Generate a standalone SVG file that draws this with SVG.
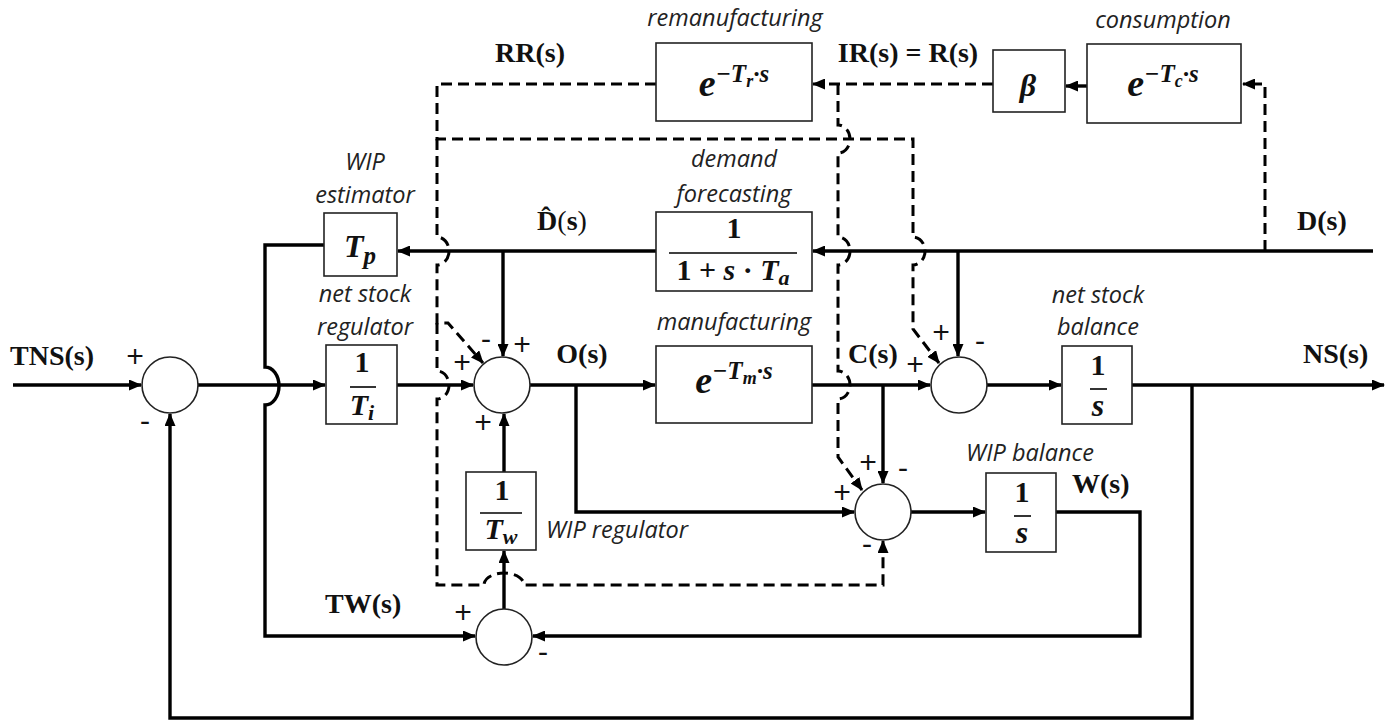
<svg xmlns="http://www.w3.org/2000/svg" width="1391" height="721" viewBox="0 0 1391 721">
<style>
.box{fill:#fff;stroke:#222;stroke-width:1.6}
.sum{fill:#fff;stroke:#222;stroke-width:1.6}
.ln{fill:none;stroke:#000;stroke-width:3.4}
.dl{fill:none;stroke:#000;stroke-width:3;stroke-dasharray:11 6}
.bar{stroke:#000;stroke-width:1.6}
.lab{font-family:"Open Sans","Liberation Sans",sans-serif;font-style:italic;font-size:23.5px;fill:#222;text-anchor:middle}
.sig{font-family:"Liberation Serif",serif;font-weight:bold;font-size:28px;fill:#111}
.m{font-family:"Liberation Serif",serif;font-weight:bold;font-style:italic;fill:#111;text-anchor:middle}
.n{font-family:"Liberation Serif",serif;font-weight:bold;fill:#111;text-anchor:middle}
.pm{font-family:"Open Sans","Liberation Sans",sans-serif;font-size:31px;fill:#111;text-anchor:middle}
</style>
<defs>
<marker id="ar" markerUnits="userSpaceOnUse" markerWidth="13" markerHeight="11" refX="12" refY="5.5" orient="auto">
<path d="M0,0 L13,5.5 L0,11 z" fill="#000"/>
</marker>
</defs>

<g id="connectors">
<!-- solid -->
<path class="ln" d="M13,385 H141" marker-end="url(#ar)"/>
<path class="ln" d="M198,385 H325" marker-end="url(#ar)"/>
<path class="ln" d="M324,245 H265 V367 A14 19 0 0 1 265,405 V636 H475" marker-end="url(#ar)"/>
<path class="ln" d="M397,385 H473" marker-end="url(#ar)"/>
<path class="ln" d="M1373,251 H813" marker-end="url(#ar)"/>
<path class="ln" d="M656,251 H398" marker-end="url(#ar)"/>
<path class="ln" d="M503,251 V356" marker-end="url(#ar)"/>
<path class="ln" d="M958,251 V356" marker-end="url(#ar)"/>
<path class="ln" d="M530,385 H655" marker-end="url(#ar)"/>
<path class="ln" d="M576,385 V512 H854" marker-end="url(#ar)"/>
<path class="ln" d="M812,385 H930" marker-end="url(#ar)"/>
<path class="ln" d="M883,385 V483" marker-end="url(#ar)"/>
<path class="ln" d="M987,385 H1061" marker-end="url(#ar)"/>
<path class="ln" d="M1132,385 H1384" marker-end="url(#ar)"/>
<path class="ln" d="M1192,385 V718 H170 V414" marker-end="url(#ar)"/>
<path class="ln" d="M911,512 H985" marker-end="url(#ar)"/>
<path class="ln" d="M1056,512 H1140 V636 H533" marker-end="url(#ar)"/>
<path class="ln" d="M504,609 V551" marker-end="url(#ar)"/>
<path class="ln" d="M504,472 V414" marker-end="url(#ar)"/>
<path class="ln" d="M1087,86 H1066" marker-end="url(#ar)"/>
<!-- dashed -->
<path class="dl" d="M1265,251 V84 H1243" marker-end="url(#ar)"/>
<path class="dl" d="M993,84 H813" marker-end="url(#ar)"/>
<path class="dl" d="M838,84 V125 A12 14 0 0 1 838,153 V237 A12 14 0 0 1 838,265 V371 A12 14 0 0 1 838,399 V457 L862,490" marker-end="url(#ar)"/>
<path class="dl" d="M656,84 H437 V139 H913 V237 A12 14 0 0 1 913,265 V329 L939,363" marker-end="url(#ar)"/>
<path class="dl" d="M437,139 V237 A12 14 0 0 1 437,265 V323 H448 L483,363" marker-end="url(#ar)"/>
<path class="dl" d="M437,323 V371 A12 14 0 0 1 437,399 V585 H484 A20 12 0 0 1 524,585 H883 V541" marker-end="url(#ar)"/>
</g>

<g id="remanufacturing">
<rect class="box" x="656" y="43" width="156" height="78"/>
<text class="m" x="734" y="96"><tspan font-size="38">e</tspan><tspan font-size="25" dy="-14">−T</tspan><tspan font-size="18" dy="5">r</tspan><tspan font-size="25" dy="-5">·s</tspan></text>
<text class="lab" x="735" y="26">remanufacturing</text>
</g>
<g id="beta">
<rect class="box" x="993" y="50" width="72" height="62"/>
<text class="m" x="1028" y="96" font-size="32">β</text>
</g>
<g id="consumption">
<rect class="box" x="1087" y="44" width="154" height="79"/>
<text class="m" x="1163" y="96"><tspan font-size="38">e</tspan><tspan font-size="25" dy="-14">−T</tspan><tspan font-size="18" dy="5">c</tspan><tspan font-size="25" dy="-5">·s</tspan></text>
<text class="lab" x="1163" y="28">consumption</text>
</g>
<g id="wip-estimator">
<rect class="box" x="324" y="213" width="73" height="63"/>
<text class="m" x="360" y="257"><tspan font-size="32">T</tspan><tspan font-size="25" dy="7">p</tspan></text>
<text class="lab" x="365" y="170">WIP</text>
<text class="lab" x="365" y="203">estimator</text>
</g>
<g id="net-stock-regulator">
<rect class="box" x="326" y="345" width="71" height="79"/>
<text class="n" x="362" y="372" font-size="30">1</text>
<line class="bar" x1="350" y1="387" x2="376" y2="387"/>
<text class="m" x="362" y="415"><tspan font-size="30">T</tspan><tspan font-size="22" dy="5">i</tspan></text>
<text class="lab" x="365" y="302">net stock</text>
<text class="lab" x="365" y="335">regulator</text>
</g>
<g id="demand-forecasting">
<rect class="box" x="656" y="212" width="156" height="79"/>
<text class="n" x="734" y="238" font-size="30">1</text>
<line class="bar" x1="669" y1="253" x2="797" y2="253"/>
<text class="m" x="733" y="280" font-size="30"><tspan font-style="normal">1 + </tspan>s<tspan font-style="normal"> · </tspan>T<tspan font-size="22" dy="5">a</tspan></text>
<text class="lab" x="734" y="167">demand</text>
<text class="lab" x="734" y="202">forecasting</text>
</g>
<g id="manufacturing">
<rect class="box" x="656" y="346" width="156" height="77"/>
<text class="m" x="734" y="393"><tspan font-size="38">e</tspan><tspan font-size="25" dy="-14">−T</tspan><tspan font-size="18" dy="5">m</tspan><tspan font-size="25" dy="-5">·s</tspan></text>
<text class="lab" x="734" y="330">manufacturing</text>
</g>
<g id="net-stock-balance">
<rect class="box" x="1062" y="346" width="70" height="78"/>
<text class="n" x="1098" y="375" font-size="30">1</text>
<line class="bar" x1="1090" y1="389" x2="1107" y2="389"/>
<text class="m" x="1098" y="416" font-size="32">s</text>
<text class="lab" x="1098" y="303">net stock</text>
<text class="lab" x="1098" y="335">balance</text>
</g>
<g id="wip-balance">
<rect class="box" x="986" y="473" width="70" height="79"/>
<text class="n" x="1022" y="502" font-size="30">1</text>
<line class="bar" x1="1014" y1="516" x2="1031" y2="516"/>
<text class="m" x="1022" y="543" font-size="32">s</text>
<text class="lab" x="1030" y="461">WIP balance</text>
</g>
<g id="wip-regulator">
<rect class="box" x="466" y="472" width="70" height="78"/>
<text class="n" x="502" y="500" font-size="30">1</text>
<line class="bar" x1="480" y1="513" x2="522" y2="513"/>
<text class="m" x="501" y="539"><tspan font-size="30">T</tspan><tspan font-size="22" dy="5">w</tspan></text>
<text class="lab" x="546" y="538" style="text-anchor:start">WIP regulator</text>
</g>

<g id="sum1"><circle class="sum" cx="170" cy="385" r="28"/>
<text class="pm" x="135" y="368">+</text><text class="pm" x="145" y="431">-</text></g>
<g id="sum2"><circle class="sum" cx="502" cy="385" r="28"/>
<text class="pm" x="462" y="374">+</text><text class="pm" x="486" y="349">-</text><text class="pm" x="522" y="356">+</text><text class="pm" x="483" y="434">+</text></g>
<g id="sum3"><circle class="sum" cx="959" cy="385" r="28"/>
<text class="pm" x="915" y="376">+</text><text class="pm" x="941" y="344">+</text><text class="pm" x="980" y="351">-</text></g>
<g id="sum4"><circle class="sum" cx="883" cy="512" r="28"/>
<text class="pm" x="842" y="504">+</text><text class="pm" x="868" y="474">+</text><text class="pm" x="903" y="478">-</text><text class="pm" x="867" y="554">-</text></g>
<g id="sum5"><circle class="sum" cx="504" cy="637" r="28"/>
<text class="pm" x="463" y="624">+</text><text class="pm" x="543" y="662">-</text></g>

<g id="signals">
<text class="sig" x="530" y="62" text-anchor="middle">RR(s)</text>
<text class="sig" x="908" y="62" text-anchor="middle">IR(s) = R(s)</text>
<text class="sig" x="562" y="230" text-anchor="middle">D̂<tspan font-weight="normal">(</tspan>s<tspan font-weight="normal">)</tspan></text>
<text class="sig" x="10" y="365">TNS(s)</text>
<text class="sig" x="582" y="363" text-anchor="middle">O(s)</text>
<text class="sig" x="848" y="363">C(s)</text>
<text class="sig" x="1297" y="230">D(s)</text>
<text class="sig" x="1303" y="363">NS(s)</text>
<text class="sig" x="1072" y="493">W(s)</text>
<text class="sig" x="325" y="613">TW(s)</text>
</g>
</svg>
